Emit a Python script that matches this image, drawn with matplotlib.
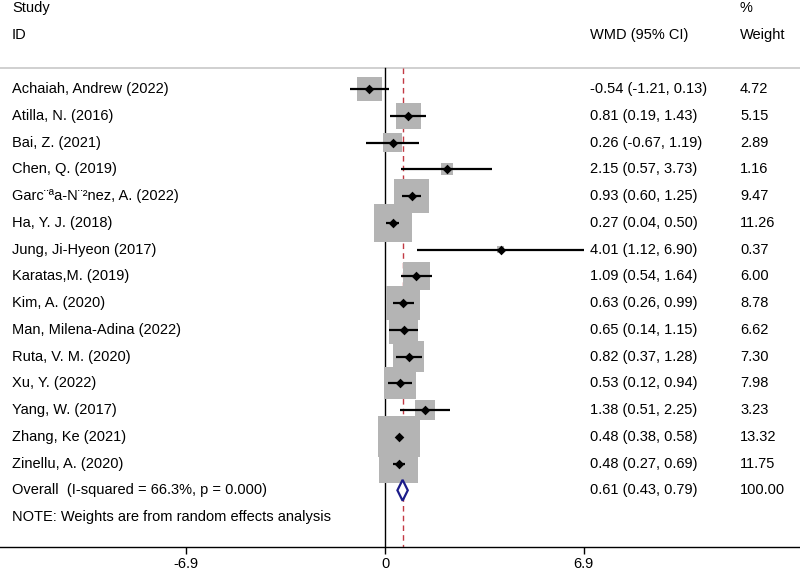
import matplotlib
matplotlib.use("Agg")
import matplotlib.pyplot as plt
import numpy as np
from matplotlib.patches import Polygon

# ============================================================
#   DATOS
# ============================================================
studies = [
    "Achaiah, Andrew (2022)", "Atilla, N. (2016)", "Bai, Z. (2021)",
    "Chen, Q. (2019)", "Garc¨ªa-N¨²nez, A. (2022)", "Ha, Y. J. (2018)",
    "Jung, Ji-Hyeon (2017)", "Karatas,M. (2019)", "Kim, A. (2020)",
    "Man, Milena-Adina (2022)", "Ruta, V. M. (2020)", "Xu, Y. (2022)",
    "Yang, W. (2017)", "Zhang, Ke (2021)", "Zinellu, A. (2020)",
]
wmd = [-0.54, 0.81, 0.26, 2.15, 0.93, 0.27, 4.01, 1.09, 0.63, 0.65, 0.82, 0.53, 1.38, 0.48, 0.48]
ci_low = [-1.21, 0.19, -0.67, 0.57, 0.60, 0.04, 1.12, 0.54, 0.26, 0.14, 0.37, 0.12, 0.51, 0.38, 0.27]
ci_high = [0.13, 1.43, 1.19, 3.73, 1.25, 0.50, 6.90, 1.64, 0.99, 1.15, 1.28, 0.94, 2.25, 0.58, 0.69]
weights = [4.72, 5.15, 2.89, 1.16, 9.47, 11.26, 0.37, 6.00, 8.78, 6.62, 7.30, 7.98, 3.23, 13.32, 11.75]

overall_label = "Overall  (I-squared = 66.3%, p = 0.000)"
overall = [0.61, 0.43, 0.79]
overall_weight = "100.00"
note = "NOTE: Weights are from random effects analysis"
xticks = [-6.9, 0, 6.9]

plt.rcParams["font.family"] = ["Liberation Sans", "DejaVu Sans"]
FS = 10.5

fig = plt.figure(figsize=(8, 5.74), dpi=100)
ax = fig.add_axes([0, 27 / 574, 1, 547 / 574])
ax.set_xlim(-13.37, 14.41)
ax.set_ylim(17.12, -3.33)

n = len(studies)
rows = np.arange(n)
trans = ax.get_yaxis_transform()

# encabezados
ax.text(0.015, -3.03, "Study", transform=trans, fontsize=FS, va="center")
ax.text(0.015, -2.02, "ID", transform=trans, fontsize=FS, va="center")
ax.text(0.7375, -2.02, "WMD (95% CI)", transform=trans, fontsize=FS, va="center")
ax.text(0.925, -3.03, "%", transform=trans, fontsize=FS, va="center")
ax.text(0.925, -2.02, "Weight", transform=trans, fontsize=FS, va="center")
ax.axhline(-0.785, color="#c8c8c8", lw=1.2, zorder=1)

# lineas de referencia
ax.plot([0, 0], [-0.785, 17.12], color="black", lw=1.0, zorder=1)
ax.plot([overall[0], overall[0]], [-0.785, 17.12], color="#c23a44", lw=1.0,
        ls=(0, (4, 3)), zorder=1)

# cajas de peso, IC y estimaciones
ax.scatter(wmd, rows, s=np.array(weights) * 66.4, marker="s", color="#b4b4b4",
           linewidths=0, zorder=2)
ax.hlines(rows, ci_low, ci_high, color="black", lw=1.6, zorder=3)
ax.scatter(wmd, rows, s=24, marker="D", color="black", linewidths=0, zorder=4)

for i in range(n):
    ax.text(0.015, i, studies[i], transform=trans, fontsize=FS, va="center")
    ax.text(0.7375, i, f"{wmd[i]:.2f} ({ci_low[i]:.2f}, {ci_high[i]:.2f})",
            transform=trans, fontsize=FS, va="center")
    ax.text(0.925, i, f"{weights[i]:.2f}", transform=trans, fontsize=FS, va="center")

# diamante global
yo = n
h = 0.39
diamond = Polygon([(overall[1], yo), (overall[0], yo - h), (overall[2], yo), (overall[0], yo + h)],
                  closed=True, facecolor="white", edgecolor="#1c1c8a", lw=1.6, zorder=5)
ax.add_patch(diamond)
ax.text(0.015, yo, overall_label, transform=trans, fontsize=FS, va="center")
ax.text(0.7375, yo, f"{overall[0]:.2f} ({overall[1]:.2f}, {overall[2]:.2f})",
        transform=trans, fontsize=FS, va="center")
ax.text(0.925, yo, overall_weight, transform=trans, fontsize=FS, va="center")
ax.text(0.015, yo + 1, note, transform=trans, fontsize=FS, va="center")

# eje
for s in ["top", "left", "right"]:
    ax.spines[s].set_visible(False)
ax.spines["bottom"].set_linewidth(1.0)
ax.set_yticks([])
ax.set_xticks(xticks)
ax.set_xticklabels([f"{t:g}" for t in xticks], fontsize=FS)
ax.tick_params(axis="x", length=5, width=1.0, pad=2)

fig.savefig("out.png", dpi=100)
